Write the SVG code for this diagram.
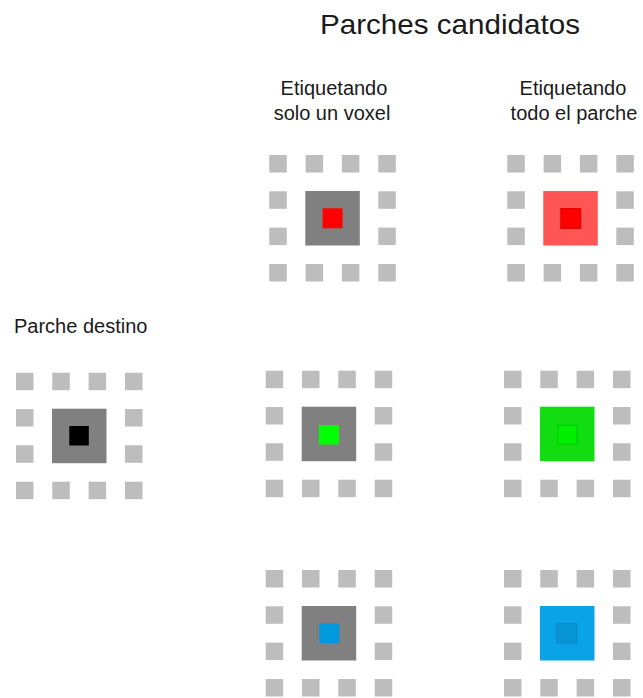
<svg xmlns="http://www.w3.org/2000/svg" xmlns:xlink="http://www.w3.org/1999/xlink" width="643" height="698" viewBox="0 0 643 698">
  <style>
    text { font-family: "Liberation Sans", Arial, sans-serif; fill: #1a1a1a; }
    .title { font-size: 28px; }
    .label { font-size: 20px; }
    .sm { fill: #bdbdbd; }
    .big { fill: #808080; }
  </style>
  <defs>
    <g id="ring">
      <rect class="sm" x="0" y="0" width="17.5" height="17.5"/>
      <rect class="sm" x="36.3" y="0" width="17.5" height="17.5"/>
      <rect class="sm" x="72.6" y="0" width="17.5" height="17.5"/>
      <rect class="sm" x="109" y="0" width="17.5" height="17.5"/>
      <rect class="sm" x="0" y="36.3" width="17.5" height="17.5"/>
      <rect class="sm" x="109" y="36.3" width="17.5" height="17.5"/>
      <rect class="sm" x="0" y="72.6" width="17.5" height="17.5"/>
      <rect class="sm" x="109" y="72.6" width="17.5" height="17.5"/>
      <rect class="sm" x="0" y="109" width="17.5" height="17.5"/>
      <rect class="sm" x="36.3" y="109" width="17.5" height="17.5"/>
      <rect class="sm" x="72.6" y="109" width="17.5" height="17.5"/>
      <rect class="sm" x="109" y="109" width="17.5" height="17.5"/>
    </g>
  </defs>
  <rect x="0" y="0" width="643" height="698" fill="#ffffff"/>

  <g id="title">
    <text class="title" x="450" y="34" text-anchor="middle" textLength="260" lengthAdjust="spacingAndGlyphs">Parches candidatos</text>
  </g>
  <g id="label-voxel">
    <text class="label" x="334" y="95" text-anchor="middle">Etiquetando</text>
    <text class="label" x="332" y="120" text-anchor="middle">solo un voxel</text>
  </g>
  <g id="label-parche">
    <text class="label" x="573" y="95" text-anchor="middle">Etiquetando</text>
    <text class="label" x="574" y="120" text-anchor="middle">todo el parche</text>
  </g>
  <g id="label-destino">
    <text class="label" x="14" y="333">Parche destino</text>
  </g>

  <g id="patch-destino" transform="translate(16,372.7)">
    <use xlink:href="#ring" href="#ring"/>
    <rect class="big" x="36" y="36" width="54.5" height="54.5"/>
    <rect x="53.3" y="53.3" width="19.5" height="19.5" fill="#000000"/>
  </g>

  <g id="patch-red-voxel" transform="translate(269.3,155)">
    <use xlink:href="#ring" href="#ring"/>
    <rect class="big" x="36" y="36" width="54.5" height="54.5"/>
    <rect x="53.3" y="53.3" width="20" height="20" fill="#ff0000"/>
  </g>
  <g id="patch-red-all" transform="translate(507.3,155)">
    <use xlink:href="#ring" href="#ring"/>
    <rect x="36" y="36" width="54.5" height="54.5" fill="#ff5555"/>
    <rect x="53.5" y="53.5" width="20" height="20" fill="#ff0000" stroke="#e00000" stroke-width="1"/>
  </g>

  <g id="patch-green-voxel" transform="translate(265.7,370.7)">
    <use xlink:href="#ring" href="#ring"/>
    <rect class="big" x="36" y="36" width="54.5" height="54.5"/>
    <rect x="53.3" y="54.3" width="20" height="19.5" fill="#00ff00"/>
  </g>
  <g id="patch-green-all" transform="translate(504,370.7)">
    <use xlink:href="#ring" href="#ring"/>
    <rect x="36" y="36" width="54.5" height="54.5" fill="#11dd11"/>
    <rect x="54" y="54.5" width="19" height="19" fill="#00f000" stroke="#00c800" stroke-width="1"/>
  </g>

  <g id="patch-blue-voxel" transform="translate(265.7,570)">
    <use xlink:href="#ring" href="#ring"/>
    <rect class="big" x="36" y="36" width="54.5" height="54.5"/>
    <rect x="53.6" y="53.3" width="20" height="20" fill="#0099dd"/>
  </g>
  <g id="patch-blue-all" transform="translate(504,570)">
    <use xlink:href="#ring" href="#ring"/>
    <rect x="36" y="36" width="54.5" height="54.5" fill="#0aa3e8"/>
    <rect x="52.5" y="53.5" width="20.5" height="19.5" fill="#0895d6" stroke="#0787c4" stroke-width="1"/>
  </g>
</svg>
